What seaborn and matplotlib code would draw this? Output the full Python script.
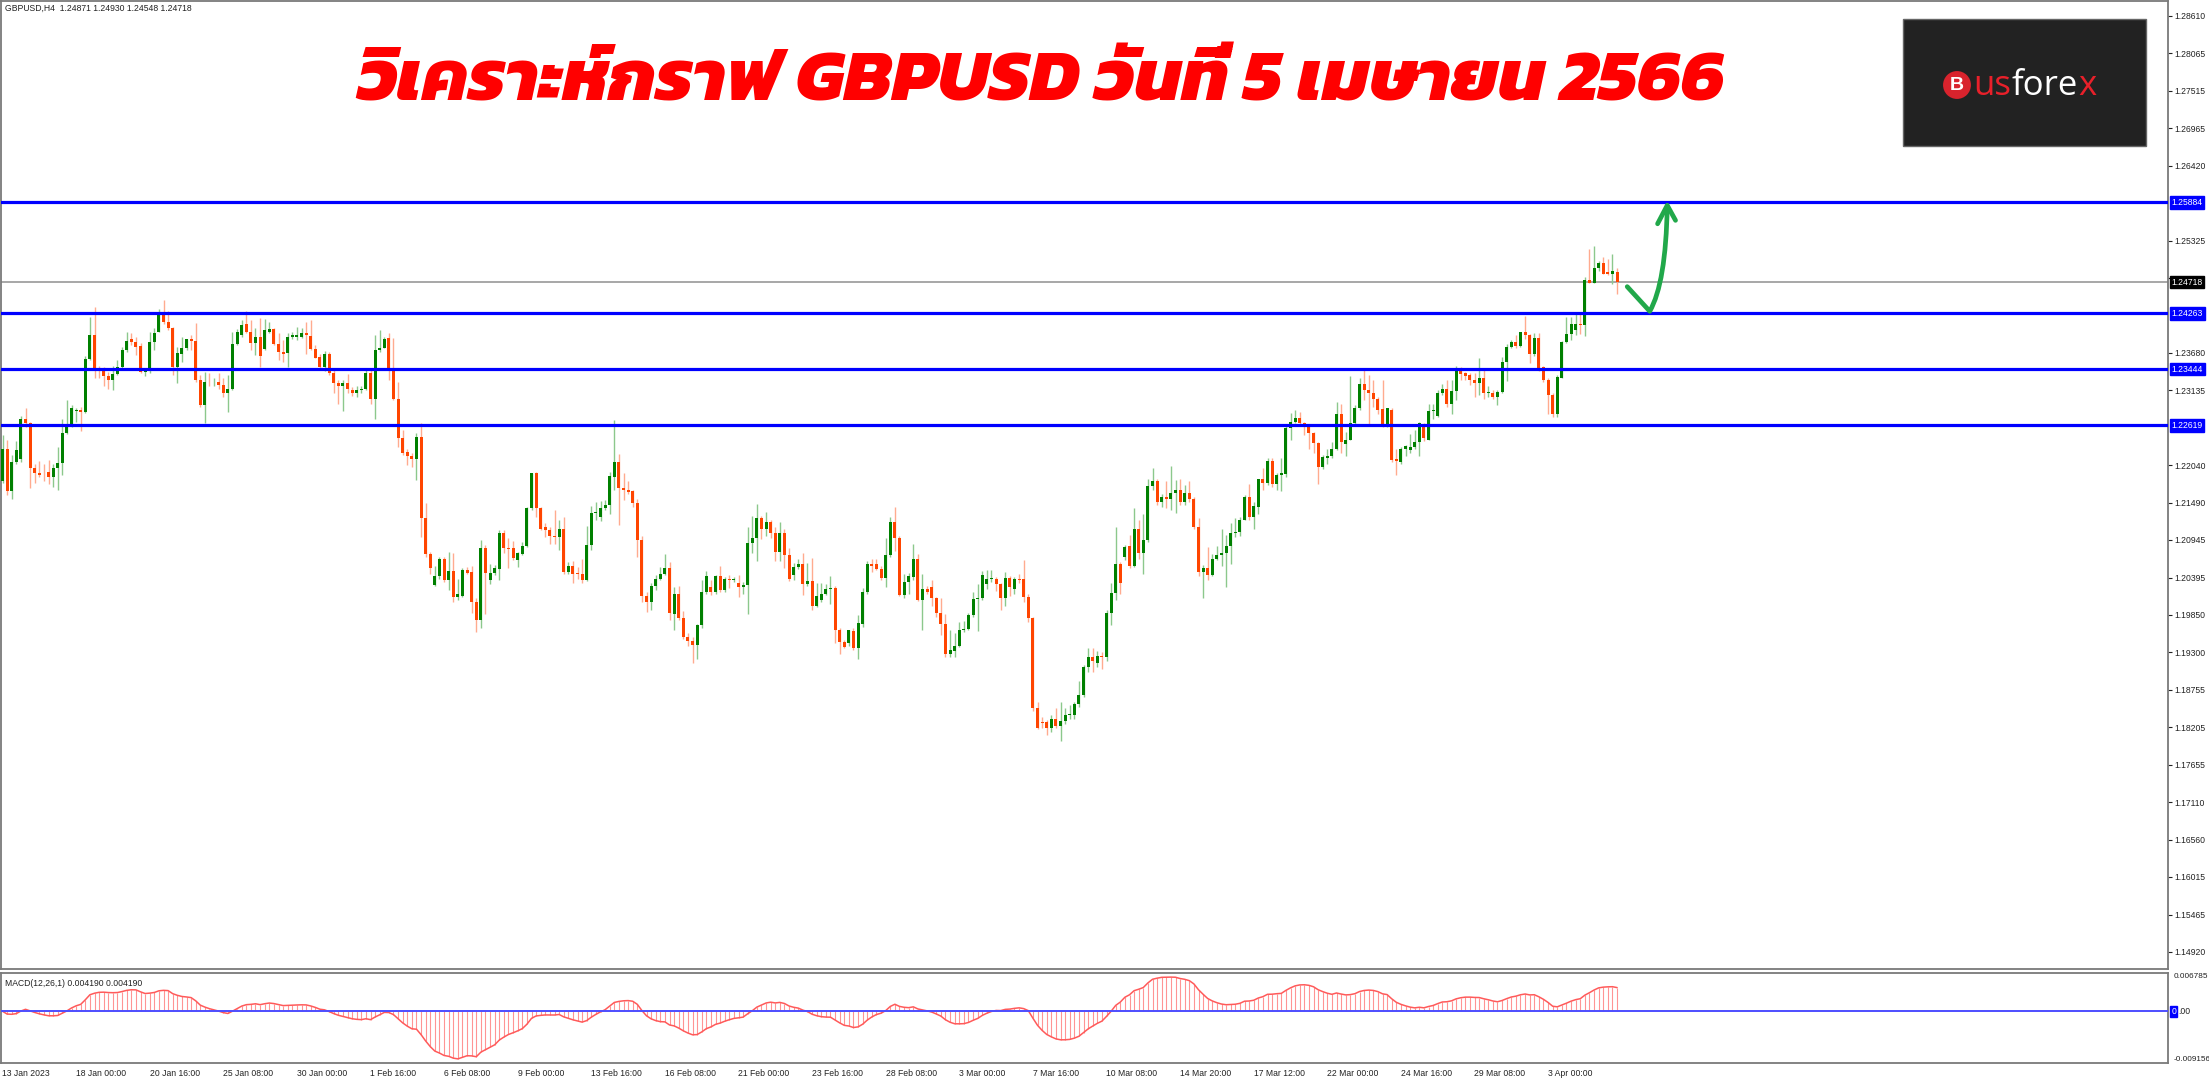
import os
import numpy as np
import pandas as pd
import matplotlib
matplotlib.use("Agg")
import matplotlib.pyplot as plt
import matplotlib.transforms as mtransforms
from matplotlib.patches import Rectangle, PathPatch
from matplotlib.path import Path
from matplotlib import font_manager
import seaborn as sns

# ---------------- data (GBPUSD H4) ----------------
opens = [
    1.2180, 1.2227, 1.2166, 1.2208, 1.2213, 1.2271, 1.2265, 1.2200, 1.2193, 1.2190,
    1.2194, 1.2187, 1.2200, 1.2207, 1.2251, 1.2262, 1.2283, 1.2284, 1.2281, 1.2359,
    1.2394, 1.2345, 1.2343, 1.2335, 1.2329, 1.2337, 1.2348, 1.2372, 1.2388, 1.2384,
    1.2378, 1.2340, 1.2341, 1.2384, 1.2399, 1.2427, 1.2414, 1.2405, 1.2347, 1.2367,
    1.2375, 1.2388, 1.2386, 1.2329, 1.2292, 1.2326, 1.2325, 1.2326, 1.2321, 1.2309,
    1.2315, 1.2381, 1.2394, 1.2410, 1.2399, 1.2383, 1.2392, 1.2374, 1.2398, 1.2403,
    1.2381, 1.2370, 1.2368, 1.2392, 1.2392, 1.2392, 1.2397, 1.2393, 1.2374, 1.2362,
    1.2347, 1.2366, 1.2338, 1.2324, 1.2320, 1.2324, 1.2314, 1.2309, 1.2314, 1.2315,
    1.2339, 1.2301, 1.2373, 1.2376, 1.2390, 1.2344, 1.2300, 1.2243, 1.2223, 1.2218,
    1.2213, 1.2245, 1.2126, 1.2074, 1.2028, 1.2041, 1.2067, 1.2036, 1.2049, 1.2011,
    1.2013, 1.2051, 1.2048, 1.2004, 1.1977, 1.2083, 1.2036, 1.2046, 1.2052, 1.2105,
    1.2083, 1.2082, 1.2065, 1.2074, 1.2086, 1.2141, 1.2192, 1.2141, 1.2113, 1.2109,
    1.2100, 1.2099, 1.2111, 1.2048, 1.2056, 1.2046, 1.2044, 1.2036, 1.2087, 1.2134,
    1.2128, 1.2141, 1.2146, 1.2187, 1.2209, 1.2170, 1.2168, 1.2166, 1.2149, 1.2095,
    1.2012, 1.2004, 1.2027, 1.2038, 1.2044, 1.2054, 1.1986, 1.2016, 1.1981, 1.1953,
    1.1947, 1.1941, 1.1970, 1.2019, 1.2026, 1.2018, 1.2041, 1.2021, 1.2038, 1.2036,
    1.2032, 1.2025, 1.2029, 1.2090, 1.2098, 1.2126, 1.2110, 1.2121, 1.2105, 1.2077,
    1.2104, 1.2072, 1.2043, 1.2055, 1.2060, 1.2030, 1.2034, 1.1998, 1.2007, 1.2015,
    1.2022, 1.2024, 1.1963, 1.1945, 1.1944, 1.1961, 1.1937, 1.1972, 1.2018, 1.2059,
    1.2059, 1.2052, 1.2039, 1.2073, 1.2121, 1.2098, 1.2014, 1.2033, 1.2040, 1.2067,
    1.2007, 1.2023, 1.2025, 1.2009, 1.1987, 1.1972, 1.1927, 1.1932, 1.1940, 1.1962,
    1.1964, 1.1984, 1.2008, 1.2009, 1.2030, 1.2037, 1.2038, 1.2030, 1.2010, 1.2039,
    1.2022, 1.2038, 1.2037, 1.2011, 1.1980, 1.1849, 1.1828, 1.1828, 1.1820, 1.1832,
    1.1822, 1.1830, 1.1838, 1.1838, 1.1854, 1.1867, 1.1909, 1.1923, 1.1915, 1.1924,
    1.1923, 1.1987, 1.2017, 1.2059, 1.2069, 1.2085, 1.2057, 1.2110, 1.2075, 1.2094,
    1.2174, 1.2181, 1.2150, 1.2158, 1.2155, 1.2163, 1.2167, 1.2150, 1.2163, 1.2155,
    1.2114, 1.2048, 1.2054, 1.2043, 1.2066, 1.2072, 1.2075, 1.2085, 1.2104, 1.2106,
    1.2124, 1.2158, 1.2128, 1.2143, 1.2183, 1.2178, 1.2210, 1.2176, 1.2190, 1.2191,
    1.2258, 1.2267, 1.2273, 1.2266, 1.2259, 1.2251, 1.2236, 1.2201, 1.2215, 1.2217,
    1.2227, 1.2279, 1.2235, 1.2241, 1.2265, 1.2287, 1.2322, 1.2314, 1.2309, 1.2300,
    1.2286, 1.2262, 1.2285, 1.2213, 1.2209, 1.2227, 1.2226, 1.2231, 1.2238, 1.2263,
    1.2241, 1.2283, 1.2276, 1.2309, 1.2315, 1.2294, 1.2313, 1.2343, 1.2338, 1.2336,
    1.2329, 1.2324, 1.2331, 1.2309, 1.2310, 1.2304, 1.2311, 1.2355, 1.2377, 1.2384,
    1.2378, 1.2398, 1.2395, 1.2366, 1.2390, 1.2347, 1.2328, 1.2306, 1.2279, 1.2332,
    1.2384, 1.2396, 1.2402, 1.2411, 1.2409, 1.2475, 1.2471, 1.2493, 1.2499, 1.2486,
    1.2484, 1.24871,
]
highs = [
    1.2248, 1.2240, 1.2219, 1.2239, 1.2276, 1.2288, 1.2267, 1.2206, 1.2210, 1.2206,
    1.2211, 1.2206, 1.2231, 1.2272, 1.2299, 1.2292, 1.2288, 1.2289, 1.2363, 1.2421,
    1.2435, 1.2349, 1.2348, 1.2340, 1.2349, 1.2358, 1.2377, 1.2398, 1.2397, 1.2392,
    1.2382, 1.2345, 1.2399, 1.2404, 1.2433, 1.2446, 1.2430, 1.2406, 1.2377, 1.2392,
    1.2389, 1.2394, 1.2412, 1.2336, 1.2340, 1.2338, 1.2332, 1.2338, 1.2331, 1.2336,
    1.2398, 1.2403, 1.2416, 1.2430, 1.2416, 1.2404, 1.2419, 1.2417, 1.2414, 1.2404,
    1.2397, 1.2387, 1.2397, 1.2398, 1.2406, 1.2404, 1.2414, 1.2416, 1.2380, 1.2367,
    1.2371, 1.2370, 1.2343, 1.2329, 1.2329, 1.2337, 1.2318, 1.2319, 1.2319, 1.2343,
    1.2343, 1.2394, 1.2401, 1.2392, 1.2397, 1.2390, 1.2326, 1.2255, 1.2228, 1.2221,
    1.2251, 1.2265, 1.2148, 1.2077, 1.2056, 1.2070, 1.2070, 1.2077, 1.2075, 1.2038,
    1.2054, 1.2055, 1.2057, 1.2009, 1.2094, 1.2087, 1.2060, 1.2058, 1.2109, 1.2109,
    1.2097, 1.2093, 1.2077, 1.2092, 1.2143, 1.2193, 1.2194, 1.2142, 1.2119, 1.2113,
    1.2138, 1.2123, 1.2128, 1.2062, 1.2064, 1.2055, 1.2066, 1.2115, 1.2144, 1.2150,
    1.2152, 1.2153, 1.2194, 1.2270, 1.2220, 1.2192, 1.2180, 1.2167, 1.2155, 1.2100,
    1.2019, 1.2031, 1.2043, 1.2055, 1.2074, 1.2062, 1.2026, 1.2027, 1.1990, 1.1958,
    1.1952, 1.1972, 1.2036, 1.2049, 1.2036, 1.2043, 1.2056, 1.2040, 1.2043, 1.2040,
    1.2043, 1.2033, 1.2114, 1.2129, 1.2147, 1.2129, 1.2135, 1.2124, 1.2114, 1.2121,
    1.2111, 1.2082, 1.2061, 1.2066, 1.2075, 1.2061, 1.2068, 1.2032, 1.2032, 1.2030,
    1.2041, 1.2027, 1.1965, 1.1948, 1.1963, 1.1965, 1.1984, 1.2024, 1.2063, 1.2066,
    1.2067, 1.2056, 1.2098, 1.2128, 1.2142, 1.2100, 1.2045, 1.2046, 1.2088, 1.2074,
    1.2044, 1.2027, 1.2036, 1.2011, 1.2009, 1.1986, 1.1962, 1.1958, 1.1975, 1.1976,
    1.1987, 1.2019, 1.2030, 1.2049, 1.2051, 1.2050, 1.2040, 1.2031, 1.2048, 1.2041,
    1.2040, 1.2045, 1.2065, 1.2015, 1.1982, 1.1857, 1.1836, 1.1831, 1.1839, 1.1848,
    1.1857, 1.1849, 1.1853, 1.1857, 1.1888, 1.1911, 1.1936, 1.1936, 1.1932, 1.1931,
    1.1992, 1.2031, 1.2113, 1.2062, 1.2087, 1.2101, 1.2141, 1.2123, 1.2133, 1.2184,
    1.2199, 1.2184, 1.2161, 1.2181, 1.2202, 1.2182, 1.2183, 1.2175, 1.2180, 1.2158,
    1.2127, 1.2058, 1.2084, 1.2074, 1.2085, 1.2111, 1.2101, 1.2119, 1.2126, 1.2128,
    1.2160, 1.2176, 1.2150, 1.2184, 1.2199, 1.2214, 1.2214, 1.2192, 1.2214, 1.2261,
    1.2280, 1.2284, 1.2282, 1.2267, 1.2261, 1.2253, 1.2238, 1.2219, 1.2227, 1.2238,
    1.2296, 1.2293, 1.2253, 1.2334, 1.2292, 1.2332, 1.2344, 1.2336, 1.2329, 1.2304,
    1.2328, 1.2288, 1.2287, 1.2228, 1.2231, 1.2233, 1.2249, 1.2256, 1.2267, 1.2266,
    1.2293, 1.2294, 1.2314, 1.2323, 1.2329, 1.2328, 1.2349, 1.2347, 1.2340, 1.2338,
    1.2339, 1.2361, 1.2345, 1.2319, 1.2314, 1.2314, 1.2362, 1.2381, 1.2387, 1.2394,
    1.2399, 1.2422, 1.2396, 1.2397, 1.2397, 1.2349, 1.2331, 1.2309, 1.2336, 1.2386,
    1.2421, 1.2421, 1.2425, 1.2425, 1.2479, 1.2520, 1.2524, 1.2502, 1.2509, 1.2505,
    1.2513, 1.24930,
]
lows = [
    1.2178, 1.2160, 1.2154, 1.2206, 1.2209, 1.2260, 1.2170, 1.2178, 1.2187, 1.2181,
    1.2177, 1.2172, 1.2168, 1.2189, 1.2250, 1.2260, 1.2267, 1.2254, 1.2280, 1.2358,
    1.2331, 1.2331, 1.2319, 1.2316, 1.2314, 1.2336, 1.2345, 1.2370, 1.2380, 1.2365,
    1.2338, 1.2334, 1.2339, 1.2372, 1.2398, 1.2411, 1.2402, 1.2336, 1.2324, 1.2355,
    1.2372, 1.2372, 1.2326, 1.2289, 1.2265, 1.2319, 1.2319, 1.2316, 1.2304, 1.2282,
    1.2314, 1.2380, 1.2392, 1.2397, 1.2372, 1.2365, 1.2348, 1.2372, 1.2397, 1.2380,
    1.2358, 1.2355, 1.2347, 1.2389, 1.2387, 1.2390, 1.2367, 1.2372, 1.2360, 1.2343,
    1.2341, 1.2336, 1.2309, 1.2294, 1.2283, 1.2309, 1.2305, 1.2304, 1.2309, 1.2314,
    1.2293, 1.2271, 1.2370, 1.2375, 1.2329, 1.2299, 1.2231, 1.2219, 1.2204, 1.2201,
    1.2182, 1.2099, 1.2070, 1.2045, 1.2027, 1.2038, 1.2033, 1.2021, 1.2004, 1.2006,
    1.2011, 1.2045, 1.1987, 1.1960, 1.1966, 1.1986, 1.2030, 1.2043, 1.2036, 1.2075,
    1.2054, 1.2065, 1.2055, 1.2072, 1.2084, 1.2138, 1.2128, 1.2109, 1.2099, 1.2088,
    1.2089, 1.2080, 1.2045, 1.2045, 1.2032, 1.2038, 1.2031, 1.2035, 1.2080, 1.2123,
    1.2122, 1.2138, 1.2132, 1.2167, 1.2116, 1.2153, 1.2161, 1.2143, 1.2070, 1.2004,
    1.1989, 1.1992, 1.2021, 1.2036, 1.2043, 1.1977, 1.1963, 1.1977, 1.1950, 1.1939,
    1.1914, 1.1920, 1.1965, 1.2016, 1.2014, 1.2016, 1.2019, 1.2019, 1.2024, 1.2033,
    1.2011, 1.2016, 1.1986, 1.2075, 1.2063, 1.2096, 1.2100, 1.2097, 1.2064, 1.2063,
    1.2054, 1.2035, 1.2036, 1.2052, 1.2014, 1.2027, 1.1992, 1.1997, 1.2004, 1.2014,
    1.2001, 1.1944, 1.1928, 1.1936, 1.1939, 1.1934, 1.1921, 1.1967, 1.2015, 1.2048,
    1.2050, 1.2036, 1.2026, 1.2070, 1.2079, 1.2012, 1.2009, 1.2016, 1.2036, 1.2005,
    1.1963, 1.2016, 1.1998, 1.1982, 1.1955, 1.1923, 1.1923, 1.1923, 1.1938, 1.1960,
    1.1962, 1.1982, 1.1961, 1.2007, 1.2023, 1.2033, 1.2020, 1.1992, 1.1998, 1.2012,
    1.2016, 1.2031, 1.2004, 1.1975, 1.1844, 1.1818, 1.1820, 1.1809, 1.1814, 1.1820,
    1.1800, 1.1825, 1.1832, 1.1833, 1.1850, 1.1865, 1.1901, 1.1901, 1.1909, 1.1906,
    1.1917, 1.1970, 1.2006, 1.2016, 1.2065, 1.2053, 1.2055, 1.2066, 1.2045, 1.2092,
    1.2167, 1.2145, 1.2143, 1.2141, 1.2138, 1.2134, 1.2145, 1.2145, 1.2150, 1.2110,
    1.2041, 1.2009, 1.2036, 1.2041, 1.2065, 1.2057, 1.2026, 1.2059, 1.2099, 1.2100,
    1.2123, 1.2124, 1.2111, 1.2133, 1.2167, 1.2175, 1.2172, 1.2167, 1.2166, 1.2187,
    1.2240, 1.2265, 1.2261, 1.2248, 1.2228, 1.2222, 1.2177, 1.2198, 1.2206, 1.2215,
    1.2226, 1.2222, 1.2218, 1.2240, 1.2262, 1.2284, 1.2299, 1.2264, 1.2289, 1.2279,
    1.2260, 1.2260, 1.2209, 1.2189, 1.2205, 1.2218, 1.2222, 1.2227, 1.2218, 1.2239,
    1.2240, 1.2271, 1.2275, 1.2306, 1.2289, 1.2279, 1.2299, 1.2328, 1.2328, 1.2321,
    1.2304, 1.2306, 1.2301, 1.2304, 1.2301, 1.2292, 1.2309, 1.2327, 1.2375, 1.2376,
    1.2377, 1.2389, 1.2353, 1.2363, 1.2342, 1.2326, 1.2279, 1.2275, 1.2274, 1.2331,
    1.2383, 1.2387, 1.2394, 1.2396, 1.2393, 1.2470, 1.2470, 1.2488, 1.2483, 1.2482,
    1.2469, 1.24548,
]
closes = [
    1.2227, 1.2166, 1.2208, 1.2226, 1.2271, 1.2265, 1.2200, 1.2193, 1.2190, 1.2189,
    1.2187, 1.2200, 1.2207, 1.2251, 1.2262, 1.2287, 1.2285, 1.2281, 1.2359, 1.2394,
    1.2345, 1.2343, 1.2335, 1.2329, 1.2337, 1.2348, 1.2372, 1.2386, 1.2384, 1.2377,
    1.2340, 1.2342, 1.2384, 1.2397, 1.2427, 1.2414, 1.2405, 1.2347, 1.2368, 1.2375,
    1.2388, 1.2386, 1.2329, 1.2292, 1.2325, 1.2325, 1.2326, 1.2321, 1.2309, 1.2315,
    1.2381, 1.2398, 1.2409, 1.2399, 1.2383, 1.2392, 1.2364, 1.2402, 1.2403, 1.2381,
    1.2370, 1.2367, 1.2391, 1.2394, 1.2394, 1.2397, 1.2394, 1.2374, 1.2361, 1.2347,
    1.2366, 1.2338, 1.2324, 1.2320, 1.2324, 1.2316, 1.2309, 1.2314, 1.2316, 1.2339,
    1.2301, 1.2373, 1.2376, 1.2389, 1.2344, 1.2300, 1.2243, 1.2222, 1.2218, 1.2213,
    1.2245, 1.2126, 1.2074, 1.2053, 1.2042, 1.2067, 1.2036, 1.2049, 1.2011, 1.2015,
    1.2051, 1.2046, 1.2004, 1.1977, 1.2083, 1.2046, 1.2046, 1.2053, 1.2105, 1.2082,
    1.2081, 1.2068, 1.2075, 1.2086, 1.2141, 1.2192, 1.2141, 1.2111, 1.2109, 1.2100,
    1.2099, 1.2111, 1.2048, 1.2056, 1.2045, 1.2044, 1.2036, 1.2087, 1.2134, 1.2136,
    1.2141, 1.2146, 1.2188, 1.2209, 1.2170, 1.2168, 1.2165, 1.2149, 1.2095, 1.2012,
    1.2004, 1.2027, 1.2038, 1.2044, 1.2054, 1.1987, 1.2016, 1.1981, 1.1953, 1.1947,
    1.1941, 1.1970, 1.2019, 1.2041, 1.2018, 1.2041, 1.2021, 1.2037, 1.2036, 1.2037,
    1.2025, 1.2029, 1.2090, 1.2098, 1.2126, 1.2110, 1.2121, 1.2105, 1.2077, 1.2104,
    1.2072, 1.2038, 1.2055, 1.2059, 1.2030, 1.2034, 1.1998, 1.2012, 1.2015, 1.2022,
    1.2024, 1.1963, 1.1945, 1.1938, 1.1962, 1.1937, 1.1973, 1.2018, 1.2059, 1.2056,
    1.2052, 1.2039, 1.2073, 1.2121, 1.2098, 1.2014, 1.2033, 1.2041, 1.2067, 1.2007,
    1.2022, 1.2019, 1.2009, 1.1987, 1.1972, 1.1927, 1.1933, 1.1940, 1.1962, 1.1964,
    1.1984, 1.2008, 1.2010, 1.2043, 1.2038, 1.2038, 1.2030, 1.2010, 1.2039, 1.2025,
    1.2037, 1.2036, 1.2011, 1.1980, 1.1848, 1.1820, 1.1827, 1.1820, 1.1832, 1.1822,
    1.1830, 1.1839, 1.1840, 1.1854, 1.1867, 1.1909, 1.1923, 1.1917, 1.1924, 1.1923,
    1.1987, 1.2017, 1.2059, 1.2031, 1.2084, 1.2057, 1.2110, 1.2076, 1.2094, 1.2173,
    1.2181, 1.2150, 1.2158, 1.2155, 1.2163, 1.2167, 1.2150, 1.2163, 1.2155, 1.2113,
    1.2048, 1.2054, 1.2043, 1.2066, 1.2072, 1.2075, 1.2085, 1.2105, 1.2106, 1.2124,
    1.2158, 1.2128, 1.2144, 1.2183, 1.2178, 1.2210, 1.2176, 1.2189, 1.2192, 1.2258,
    1.2267, 1.2273, 1.2266, 1.2260, 1.2251, 1.2236, 1.2201, 1.2216, 1.2218, 1.2227,
    1.2279, 1.2238, 1.2241, 1.2266, 1.2287, 1.2322, 1.2314, 1.2309, 1.2300, 1.2285,
    1.2262, 1.2287, 1.2212, 1.2210, 1.2228, 1.2232, 1.2231, 1.2238, 1.2265, 1.2243,
    1.2283, 1.2284, 1.2309, 1.2315, 1.2294, 1.2313, 1.2343, 1.2337, 1.2334, 1.2328,
    1.2324, 1.2331, 1.2309, 1.2311, 1.2304, 1.2311, 1.2355, 1.2377, 1.2384, 1.2378,
    1.2398, 1.2395, 1.2366, 1.2390, 1.2345, 1.2328, 1.2306, 1.2279, 1.2333, 1.2384,
    1.2396, 1.2410, 1.2411, 1.2409, 1.2475, 1.2471, 1.2493, 1.2499, 1.2484, 1.2484,
    1.2488, 1.24718,
]

time_labels = [
    "13 Jan 2023", "18 Jan 00:00", "20 Jan 16:00", "25 Jan 08:00", "30 Jan 00:00",
    "1 Feb 16:00", "6 Feb 08:00", "9 Feb 00:00", "13 Feb 16:00", "16 Feb 08:00",
    "21 Feb 00:00", "23 Feb 16:00", "28 Feb 08:00", "3 Mar 00:00", "7 Mar 16:00",
    "10 Mar 08:00", "14 Mar 20:00", "17 Mar 12:00", "22 Mar 00:00", "24 Mar 16:00",
    "29 Mar 08:00", "3 Apr 00:00",
]
bars_per_label = 16
price_ticks = [
    1.28610, 1.28065, 1.27515, 1.26965, 1.26420, 1.25325, 1.24775, 1.23680, 1.23135,
    1.22040, 1.21490, 1.20945, 1.20395, 1.19850, 1.19300, 1.18755, 1.18205, 1.17655,
    1.17110, 1.16560, 1.16015, 1.15465, 1.14920,
]
levels = [1.25884, 1.24263, 1.23444, 1.22619]
current_price = 1.24718
macd_top, macd_bottom = 0.006785, -0.009156
header = "GBPUSD,H4  1.24871 1.24930 1.24548 1.24718"
macd_label = "MACD(12,26,1) 0.004190 0.004190"
title = "วิเคราะห์กราฟ GBPUSD วันที่ 5 เมษายน 2566"
logo_parts = [("us", "#e8202a"), ("fore", "#ffffff"), ("x", "#e8202a")]
arrow_bars = [353.2, 358.1, 361.6, 361.9]
arrow_prices = [1.2465, 1.2429, 1.2470, 1.2582]
arrowhead_bars = [359.8, 361.9, 363.7]
arrowhead_prices = [1.2557, 1.2584, 1.2562]

assert len(opens) == len(highs) == len(lows) == len(closes) == 352

# ---------------- style ----------------
sns.set_theme(style="white")
plt.rcParams["font.family"] = ["Liberation Sans", "DejaVu Sans"]
FS = 6.2


def thai_fonts():
    found = []
    try:
        from fontTools.ttLib import TTFont
    except Exception:
        return found
    for path in font_manager.findSystemFonts():
        try:
            tt = TTFont(path, fontNumber=0, lazy=True)
            cmap = tt.getBestCmap() or {}
            if 0x0E27 in cmap and 0x0E01 in cmap:
                found.append(path)
            tt.close()
        except Exception:
            continue
    return found


def pick_title_font(paths):
    names = {os.path.splitext(os.path.basename(p))[0].lower(): p for p in paths}
    prefs = ["kanit-extrabolditalic", "kanit-bolditalic", "prompt-extrabolditalic",
             "prompt-bolditalic", "kanit-semibolditalic", "kanit-bold", "prompt-bold",
             "mitr-bold", "chakrapetch-bolditalic"]
    for pref in prefs:
        if pref in names:
            return names[pref]
    bolds = [p for p in paths if "bold" in p.lower()]
    return (bolds or paths or [None])[0]


thai = thai_fonts()
title_font = pick_title_font(thai)

W, H = 2209, 1080
fig = plt.figure(figsize=(W / 100, H / 100), dpi=100)
fig.patch.set_facecolor("white")


def fx(p):
    return p / W


def fy(p):
    return 1 - p / H


ax = fig.add_axes([fx(1), fy(969), fx(2168) - fx(1), fy(1) - fy(969)])
axm = fig.add_axes([fx(1), fy(1063), fx(2168) - fx(1), fy(973) - fy(1063)])

x0 = (1 - 2.5) / 4.6
x1 = (2168 - 2.5) / 4.6
for a in (ax, axm):
    a.set_xlim(x0, x1)
    a.set_facecolor("white")
    for s in a.spines.values():
        s.set_color("#7a7a7a")
        s.set_linewidth(1.3)

ax.set_ylim(1.14668, 1.28829)
axm.set_ylim(macd_bottom, macd_top)

o = np.array(opens)
h = np.array(highs)
l = np.array(lows)
c = np.array(closes)
idx = np.arange(len(c))
up = c >= o
bot = np.minimum(o, c)
hgt = np.maximum(np.abs(c - o), 0.00012)

for mask, body, wick in [(up, "#008000", "#8cc88c"), (~up, "#ff4500", "#ffab8f")]:
    ax.vlines(idx[mask], l[mask], h[mask], colors=wick, lw=1.0, zorder=2)
    ax.bar(idx[mask], hgt[mask], bottom=bot[mask], width=0.62, color=body,
           linewidth=0, zorder=3)

ax.axhline(current_price, color="#a0a0a0", lw=1.3, zorder=1.5)
for lv in levels:
    ax.axhline(lv, color="#0000ff", lw=2.3, zorder=4)

ax.yaxis.tick_right()
ax.set_yticks(price_ticks)
ax.set_yticklabels([f"{v:.5f}" for v in price_ticks])
ax.tick_params(axis="y", length=3, width=0.8, colors="#222222", labelsize=FS,
               pad=1.5, direction="out")
ax.set_xticks([])

trans = mtransforms.blended_transform_factory(ax.transAxes, ax.transData)
for lv in levels:
    ax.text(1.0016, lv, f"{lv:.5f}", transform=trans, ha="left", va="center",
            fontsize=FS, color="white", clip_on=False, zorder=10,
            bbox=dict(boxstyle="square,pad=0.22", fc="#0000ff", ec="#0000ff"))
ax.text(1.0016, current_price, f"{current_price:.5f}", transform=trans, ha="left",
        va="center", fontsize=FS, color="white", clip_on=False, zorder=10,
        bbox=dict(boxstyle="square,pad=0.22", fc="#000000", ec="#000000"))

# ---------------- MACD (12,26,1) from the closes ----------------
s = pd.Series(c)
macd = (s.ewm(span=12, adjust=False).mean() - s.ewm(span=26, adjust=False).mean()).values
axm.vlines(idx, 0, macd, colors="#ff9494", lw=0.8, zorder=2)
sns.lineplot(x=idx, y=macd, ax=axm, color="#ff5a5a", lw=1.1, zorder=3)
axm.axhline(0, color="#4d4dff", lw=1.4, zorder=4)
axm.set_ylabel("")
axm.set_yticks([])
axm.set_xticks([bars_per_label * k for k in range(len(time_labels))])
axm.set_xticklabels(time_labels)
axm.tick_params(axis="x", length=3, width=0.8, colors="#222222", labelsize=FS,
                pad=1.5, direction="out")
for lab in axm.get_xticklabels():
    lab.set_ha("left")
axm.text(0.002, 0.93, macd_label, transform=axm.transAxes, fontsize=FS,
         va="top", ha="left", color="#222222")
tm = mtransforms.blended_transform_factory(axm.transAxes, axm.transData)
axm.text(1.0025, macd_top, f"{macd_top:.6f}", transform=tm, ha="left", va="top",
         fontsize=FS - 0.3, color="#222222", clip_on=False)
axm.text(1.0025, macd_bottom, f"{macd_bottom:.6f}", transform=tm, ha="left",
         va="bottom", fontsize=FS - 0.3, color="#222222", clip_on=False)
zlab = axm.text(1.0016, 0, "0", transform=tm, ha="left", va="center", fontsize=FS,
                color="white", clip_on=False, zorder=10,
                bbox=dict(boxstyle="square,pad=0.12", fc="#0000ff", ec="#0000ff"))
axm.text(1.0047, 0, ".00", transform=tm, ha="left", va="center", fontsize=FS,
         color="#222222", clip_on=False)

# ---------------- annotations ----------------
fig.text(fx(5), fy(8), header, fontsize=FS, va="center", ha="left", color="#222222")

if title_font:
    tprops = font_manager.FontProperties(fname=title_font, size=60)
else:
    tprops = font_manager.FontProperties(family="DejaVu Sans", weight="bold",
                                         style="italic", size=60)
t = fig.text(fx(1041), fy(84), title, fontproperties=tprops, color="#ff0000",
             ha="center", va="center")
fig.canvas.draw()
renderer = fig.canvas.get_renderer()
bb = t.get_window_extent(renderer)
if bb.width > 0:
    t.set_fontsize(60 * 1370 / bb.width)

# logo
fig.add_artist(Rectangle((fx(1903), fy(146)), fx(2146) - fx(1903), fy(19) - fy(146),
                         transform=fig.transFigure, fc="#222222", ec="#666666", lw=1))
fig.text(fx(1957), fy(85), "B", fontsize=14, fontweight="bold", color="white",
         ha="center", va="center",
         bbox=dict(boxstyle="circle,pad=0.28", fc="#d9232d", ec="none"))
xpos = 1973
for txt, col in logo_parts:
    tt = fig.text(fx(xpos), fy(95), txt, fontsize=25, color=col, ha="left",
                  va="baseline", family=["Open Sans", "DejaVu Sans"])
    xpos += tt.get_window_extent(renderer).width + 0.5

# green arrow
verts = list(zip(arrow_bars, arrow_prices))
codes = [Path.MOVETO, Path.LINETO, Path.CURVE3, Path.CURVE3]
ax.add_patch(PathPatch(Path(verts, codes), fill=False, ec="#21a84a", lw=3.4,
                       capstyle="round", joinstyle="round", zorder=6))
ax.plot(arrowhead_bars, arrowhead_prices, color="#21a84a", lw=3.4,
        solid_capstyle="round", solid_joinstyle="round", zorder=6)

fig.savefig("out.png", dpi=100, facecolor="white")
